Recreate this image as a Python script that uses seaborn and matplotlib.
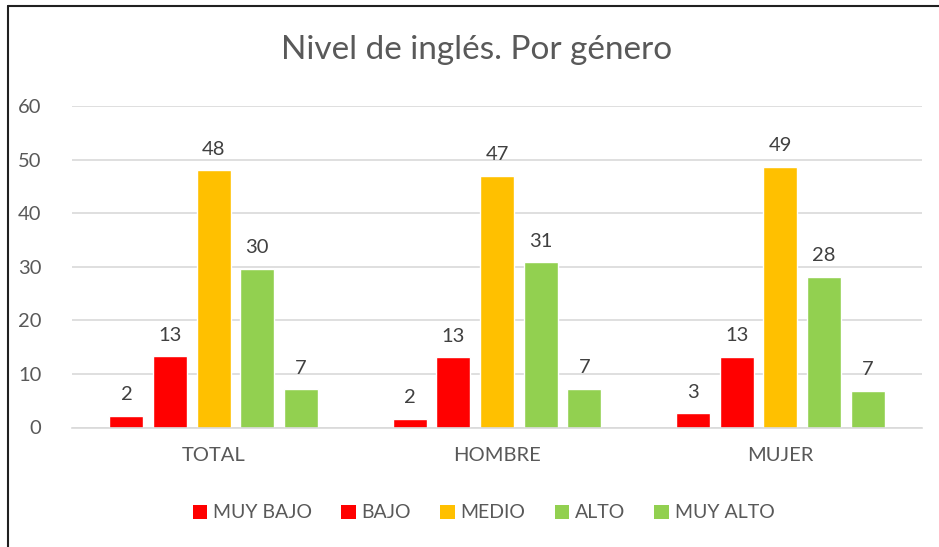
import matplotlib
matplotlib.use("Agg")
import matplotlib.pyplot as plt
from matplotlib.lines import Line2D
from matplotlib.patches import Patch
import pandas as pd
import seaborn as sns

# data
groups = ["TOTAL", "HOMBRE", "MUJER"]
levels = ["MUY BAJO", "BAJO", "MEDIO", "ALTO", "MUY ALTO"]
total = [2.2, 13.3, 48.0, 29.6, 7.1]
hombre = [1.6, 13.1, 47.0, 30.8, 7.2]
mujer = [2.7, 13.2, 48.7, 28.1, 6.9]
colors = ["#FF0000", "#FF0000", "#FFC000", "#92D050", "#92D050"]

rows = []
for g, vals in zip(groups, [total, hombre, mujer]):
    for lvl, v in zip(levels, vals):
        rows.append({"grupo": g, "nivel": lvl, "valor": v})
df = pd.DataFrame(rows)

sns.set_style("white")
plt.rcParams["font.family"] = ["Lato", "DejaVu Sans"]
text_col = "#595959"

fig = plt.figure(figsize=(9.39, 5.47), dpi=100)
ax = fig.add_axes([72 / 939, 1 - 427.5 / 547, 850 / 939, (427.5 - 106) / 547])

sns.barplot(data=df, x="grupo", y="valor", hue="nivel", order=groups,
            hue_order=levels, palette=colors, width=0.77, gap=0.22,
            saturation=1, legend=False, ax=ax)

for cont in ax.containers:
    ax.bar_label(cont, fmt="%.0f", padding=9, fontsize=14.5, color="#404040")

ax.set_ylim(0, 60)
ax.set_yticks(range(0, 61, 10))
ax.grid(axis="y", color="#D9D9D9", linewidth=1.2)
ax.set_axisbelow(True)
for s in ["top", "right", "left"]:
    ax.spines[s].set_visible(False)
ax.spines["bottom"].set_color("#D9D9D9")
ax.spines["bottom"].set_linewidth(1.2)
ax.tick_params(axis="both", length=0, labelsize=14.5, labelcolor=text_col)
ax.tick_params(axis="y", pad=22)
ax.tick_params(axis="x", pad=14)
ax.set_xlabel("")
ax.set_ylabel("")

fig.text(0.507, 1 - 50 / 547, "Nivel de inglés. Por género", ha="center",
         va="center", fontsize=24, color=text_col)

handles = [Patch(facecolor=c, edgecolor="none") for c in colors]
fig.legend(handles, levels, loc="center", bbox_to_anchor=(0.515, 1 - 513 / 547),
           ncol=5, frameon=False, fontsize=14, labelcolor=text_col,
           handlelength=0.75, handleheight=0.75, handletextpad=0.3,
           columnspacing=1.5)

# chart frame (only top and left edges are inside the image)
fig.add_artist(Line2D([8 / 939, 1], [1 - 6 / 547, 1 - 6 / 547],
                      transform=fig.transFigure, color="#202020", linewidth=1.5))
fig.add_artist(Line2D([8 / 939, 8 / 939], [0, 1 - 6 / 547],
                      transform=fig.transFigure, color="#202020", linewidth=1.5))

fig.savefig("out.png", dpi=100, facecolor="white")
